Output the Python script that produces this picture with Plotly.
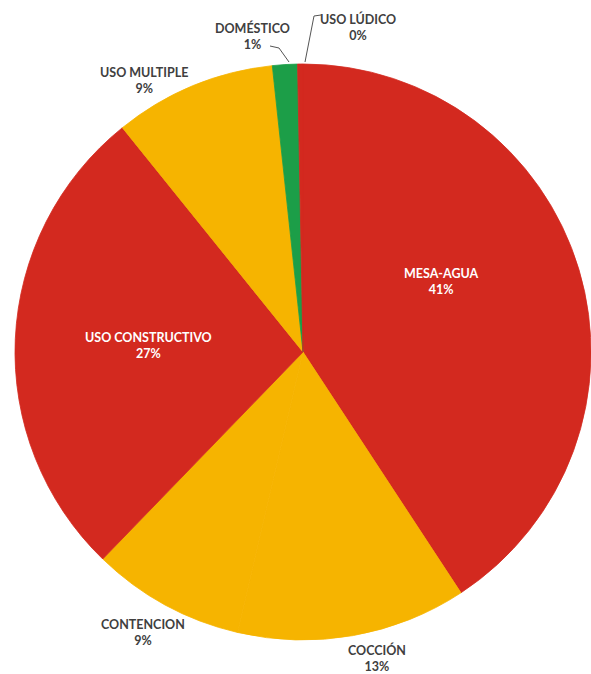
import plotly.graph_objects as go

W, H = 591, 674

categories = ["MESA-AGUA", "COCCIÓN", "CONTENCION", "USO CONSTRUCTIVO", "USO MULTIPLE", "DOMÉSTICO", "USO LÚDICO"]
values = [40.8, 12.9, 8.6, 27.0, 9.1, 1.4, 0.3]
pct_labels = ["41%", "13%", "9%", "27%", "9%", "1%", "0%"]
colors = ["#D3291F", "#F6B400", "#F6B400", "#D3291F", "#F6B400", "#1C9E48", "#D3291F"]

# label positions in pixels (x, y of first line) and whether inside (white) or outside (dark)
label_pos = [(441, 273), (377, 650), (143, 624), (148, 337), (144, 72), (252, 28), (358, 19)]
label_inside = [True, False, False, True, False, False, False]


def px(x, y):
    return x / W, 1 - y / H


fig = go.Figure(go.Pie(
    labels=categories,
    values=values,
    sort=False,
    direction="clockwise",
    rotation=0,
    marker=dict(colors=colors, line=dict(width=0.8, color=colors)),
    textinfo="none",
    hoverinfo="label+percent",
    showlegend=False,
    domain=dict(x=[15 / W, 1.0], y=[1 - 641 / H, 1 - 63 / H]),
))

for cat, pct, (lx, ly), inside in zip(categories, pct_labels, label_pos, label_inside):
    x, y = px(lx, ly + 8)
    fig.add_annotation(
        x=x, y=y, xref="paper", yref="paper",
        text=f"{cat}<br>{pct}", showarrow=False,
        font=dict(family="Lato, 'Open Sans', sans-serif", size=12.5,
                  color="#FFFFFF" if inside else "#404040", weight="bold"),
        align="center", xanchor="center", yanchor="middle",
    )

# leader lines for the tiny slices
def path_px(points):
    s = ""
    for i, (x, y) in enumerate(points):
        fx, fy = px(x, y)
        s += ("M" if i == 0 else "L") + f"{fx},{fy} "
    return s

fig.add_shape(type="path", xref="paper", yref="paper",
              path=path_px([(270, 46), (279, 48), (289, 62)]),
              line=dict(color="#555555", width=1))
fig.add_shape(type="path", xref="paper", yref="paper",
              path=path_px([(321, 15), (314, 16), (305, 62)]),
              line=dict(color="#555555", width=1))

fig.update_layout(
    width=W, height=H,
    margin=dict(l=0, r=0, t=0, b=0),
    paper_bgcolor="white",
    plot_bgcolor="white",
)

fig.write_html("out.html",
               config={"displayModeBar": False},
               post_script="document.body.style.margin='0';document.body.style.overflow='hidden';")
